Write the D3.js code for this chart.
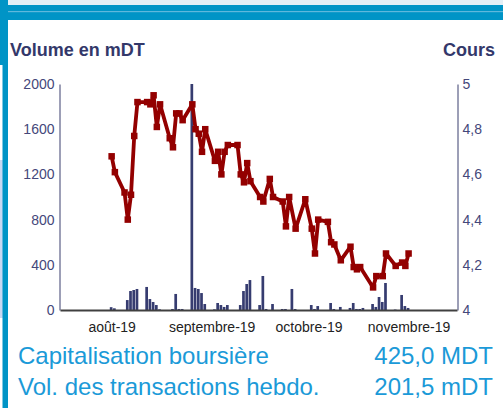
<!DOCTYPE html>
<meta charset="utf-8">
<title>Volume et cours</title>
<style>
    body { margin: 0; background: #fff; }
    svg { display: block; font-family: "Liberation Sans", Arial, sans-serif; }
    .tick-lbl { fill: #44477a; font-size: 14px; }
    .month-lbl { fill: #222; font-size: 14px; }
    .axis-title { fill: #33386a; font-size: 18px; font-weight: bold; }
    .info { fill: #1b9ad8; font-size: 24px; }
</style>
<body>
<svg id="chart"></svg>
<script src="https://d3js.org/d3.v7.min.js"></script>
<script>
    // cours (price), daily
    var priceDates = ["2019-08-01", "2019-08-02", "2019-08-05", "2019-08-06", "2019-08-07", "2019-08-08",
        "2019-08-09", "2019-08-12", "2019-08-13", "2019-08-14", "2019-08-15", "2019-08-16", "2019-08-19",
        "2019-08-20", "2019-08-21", "2019-08-22", "2019-08-23", "2019-08-26", "2019-08-27", "2019-08-28",
        "2019-08-29", "2019-08-30", "2019-09-02", "2019-09-03", "2019-09-04", "2019-09-05", "2019-09-06",
        "2019-09-09", "2019-09-10", "2019-09-11", "2019-09-12", "2019-09-13", "2019-09-16", "2019-09-17",
        "2019-09-19", "2019-09-20", "2019-09-23", "2019-09-24", "2019-09-25", "2019-09-27", "2019-09-30",
        "2019-10-02", "2019-10-03", "2019-10-04", "2019-10-07", "2019-10-08", "2019-10-09", "2019-10-11",
        "2019-10-14", "2019-10-15", "2019-10-16", "2019-10-17", "2019-10-21", "2019-10-22", "2019-10-24",
        "2019-10-25", "2019-10-28", "2019-10-30", "2019-10-31", "2019-11-01"];
    var priceValues = [4.68, 4.61, 4.52, 4.40, 4.51, 4.77,
        4.92, 4.92, 4.91, 4.95, 4.81, 4.91, 4.76,
        4.72, 4.87, 4.87, 4.84, 4.91, 4.80, 4.78,
        4.70, 4.80, 4.66, 4.70, 4.60, 4.70, 4.73,
        4.73, 4.60, 4.565, 4.65, 4.57, 4.50, 4.48,
        4.58, 4.50, 4.48, 4.37, 4.50, 4.36, 4.49,
        4.36, 4.25, 4.40, 4.39, 4.30, 4.29, 4.22,
        4.28, 4.19, 4.18, 4.19, 4.10, 4.15, 4.15,
        4.25, 4.195, 4.21, 4.195, 4.25];

    // volume en mDT, daily
    var volDates = ["2019-08-01", "2019-08-02", "2019-08-06", "2019-08-07", "2019-08-08", "2019-08-09",
        "2019-08-12", "2019-08-13", "2019-08-14", "2019-08-15", "2019-08-16", "2019-08-20", "2019-08-21",
        "2019-08-22", "2019-08-23", "2019-08-26", "2019-08-27", "2019-08-28", "2019-08-29", "2019-08-30",
        "2019-09-02", "2019-09-03", "2019-09-04", "2019-09-05", "2019-09-06", "2019-09-10", "2019-09-11",
        "2019-09-12", "2019-09-13", "2019-09-16", "2019-09-17", "2019-09-18", "2019-09-20", "2019-09-23",
        "2019-09-24", "2019-09-26", "2019-09-27", "2019-10-02", "2019-10-03", "2019-10-04", "2019-10-08",
        "2019-10-09", "2019-10-11", "2019-10-14", "2019-10-15", "2019-10-16", "2019-10-17", "2019-10-18",
        "2019-10-21", "2019-10-22", "2019-10-23", "2019-10-24", "2019-10-25", "2019-10-28", "2019-10-30",
        "2019-10-31", "2019-11-01"];
    var volValues = [25, 15, 88, 168, 177, 186,
        204, 97, 71, 44, 6, 9, 142,
        9, 9, 2000, 195, 186, 150, 53,
        6, 62, 44, 27, 44, 44, 168,
        230, 265, 44, 301, 9, 53, 9,
        9, 186, 9, 44, 9, 35, 62,
        9, 27, 18, 62, 9, 9, 18,
        53, 27, 115, 71, 239, 4, 133,
        35, 18];

    var volTicks = [0, 400, 800, 1200, 1600, 2000];
    var priceTicks = [4, 4.2, 4.4, 4.6, 4.8, 5];
    var monthTicks = ["2019-08-01", "2019-09-01", "2019-10-01", "2019-11-01"];
    var monthLabels = ["août-19", "septembre-19", "octobre-19", "novembre-19"];
    var infoLabels = ["Capitalisation boursière", "Vol. des transactions hebdo."];
    var infoValues = ["425,0 MDT", "201,5 mDT"];

    var W = 503, H = 408;
    var plot = { left: 60, right: 457, top: 84, bottom: 310 };
    var parse = d3.timeParse("%Y-%m-%d");

    var svg = d3.select("#chart").attr("width", W).attr("height", H);

    // page frame: top band and left stripe
    svg.append("rect").attr("x", 0).attr("y", 0).attr("width", W).attr("height", 5).attr("fill", "#e3eff6");
    svg.append("rect").attr("x", 0).attr("y", 5).attr("width", W).attr("height", 15).attr("fill", "#0094c6");
    svg.append("rect").attr("x", 0).attr("y", 11).attr("width", W).attr("height", 1.2).attr("fill", "#5fb8dc");
    svg.append("rect").attr("x", 0).attr("y", 0).attr("width", 8).attr("height", H).attr("fill", "#0094c6");
    svg.append("rect").attr("x", 0).attr("y", 65).attr("width", 2.5).attr("height", 95).attr("fill", "#fff");
    svg.append("rect").attr("x", 0).attr("y", 160).attr("width", 2.5).attr("height", 158).attr("fill", "#c9d8f2");
    svg.append("rect").attr("x", 0).attr("y", 318).attr("width", 2.5).attr("height", 90).attr("fill", "#fff");

    var x = d3.scaleTime()
        .domain([parse("2019-07-16"), parse("2019-11-16")])
        .range([plot.left, plot.right]);
    var yVol = d3.scaleLinear().domain([0, 2000]).range([plot.bottom, plot.top]).clamp(true);
    var yPrice = d3.scaleLinear().domain([4, 5]).range([plot.bottom, plot.top]);

    var vol = volDates.map((d, i) => ({ date: parse(d), v: volValues[i] }));
    var price = priceDates.map((d, i) => ({ date: parse(d), v: priceValues[i] }));

    // volume bars
    var barW = 2.7;
    svg.append("g").selectAll("rect").data(vol).join("rect")
        .attr("x", d => x(d.date) - barW / 2 - 0.5)
        .attr("y", d => yVol(d.v))
        .attr("width", barW)
        .attr("height", d => plot.bottom - yVol(d.v))
        .attr("fill", "#363c70");

    // axes
    var leftAxis = d3.axisLeft(yVol).tickValues(volTicks).tickSize(0).tickPadding(5)
        .tickFormat(d3.format("d"));
    var gl = svg.append("g").attr("transform", `translate(${plot.left - 0.5},0)`).call(leftAxis);
    gl.select(".domain").attr("stroke", "#3b3f6e");
    gl.selectAll("text").attr("class", "tick-lbl").attr("font-family", null).attr("font-size", null).attr("fill", null);

    var rightAxis = d3.axisRight(yPrice).tickValues(priceTicks).tickSize(0).tickPadding(5)
        .tickFormat(d => d3.format("~g")(d).replace(".", ","));
    var gr = svg.append("g").attr("transform", `translate(${plot.right + 0.5},0)`).call(rightAxis);
    gr.select(".domain").attr("stroke", "#3b3f6e");
    gr.selectAll("text").attr("class", "tick-lbl").attr("font-family", null).attr("font-size", null).attr("fill", null);

    var bottomAxis = d3.axisBottom(x).tickValues(monthTicks.map(parse)).tickSize(0).tickPadding(12)
        .tickFormat((d, i) => monthLabels[i]);
    var gb = svg.append("g").attr("transform", `translate(0,${plot.bottom})`).call(bottomAxis);
    gb.select(".domain").attr("stroke", "#404040").attr("stroke-width", 2);
    gb.selectAll("text").attr("class", "month-lbl").attr("font-family", null).attr("font-size", null).attr("fill", null);

    // price line
    var line = d3.line().x(d => x(d.date)).y(d => yPrice(d.v));
    svg.append("path").datum(price)
        .attr("d", line)
        .attr("fill", "none")
        .attr("stroke", "#930000")
        .attr("stroke-width", 3.8)
        .attr("stroke-linejoin", "round");
    var mk = 6.5;
    svg.append("g").selectAll("rect").data(price).join("rect")
        .attr("x", d => x(d.date) - mk / 2)
        .attr("y", d => yPrice(d.v) - mk / 2)
        .attr("width", mk)
        .attr("height", mk)
        .attr("fill", "#930000");

    // titles
    svg.append("text").attr("class", "axis-title").attr("x", 10).attr("y", 56).text("Volume en mDT");
    svg.append("text").attr("class", "axis-title").attr("x", 495).attr("y", 56)
        .attr("text-anchor", "end").text("Cours");

    // info lines
    var infoY = [364, 395];
    infoLabels.forEach((t, i) => {
        svg.append("text").attr("class", "info").attr("x", 18).attr("y", infoY[i]).text(t);
        svg.append("text").attr("class", "info").attr("x", 493).attr("y", infoY[i])
            .attr("text-anchor", "end").text(infoValues[i]);
    });
</script>
</body>
